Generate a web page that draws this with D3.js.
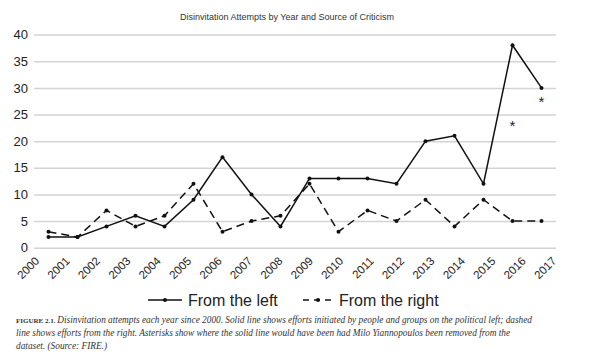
<!DOCTYPE html>
<html>
<head>
<meta charset="utf-8">
<script src="https://cdn.jsdelivr.net/npm/d3@7"></script>
<style>
  html, body { margin: 0; padding: 0; background: #fff; }
  svg { display: block; }
</style>
</head>
<body>
<svg id="chart" width="611" height="356"></svg>
<script>
const years = ["2000","2001","2002","2003","2004","2005","2006","2007","2008","2009","2010","2011","2012","2013","2014","2015","2016","2017"];
const fromLeft  = [2, 2, 4, 6, 4, 9, 17, 10, 4, 13, 13, 13, 12, 20, 21, 12, 38, 30];
const fromRight = [3, 2, 7, 4, 6, 12, 3, 5, 6, 12, 3, 7, 5, 9, 4, 9, 5, 5];
const withoutMiloYears = ["2016", "2017"];
const withoutMiloValues = [23.5, 28];
const yTicks = [0, 5, 10, 15, 20, 25, 30, 35, 40];
const seriesNames = ["From the left", "From the right"];
const title = "Disinvitation Attempts by Year and Source of Criticism";
const captionLabel = "FIGURE 2.1.";
const captionLines = [
  "Disinvitation attempts each year since 2000. Solid line shows efforts initiated by people and groups on the political left; dashed",
  "line shows efforts from the right. Asterisks show where the solid line would have been had Milo Yiannopoulos been removed from the",
  "dataset. (Source: FIRE.)"
];

const svg = d3.select("#chart");
const x = d3.scaleBand().domain(years).range([34, 556]);
const xLabel = d3.scalePoint().domain(years).range([37.5, 554.5]);
const y = d3.scaleLinear().domain([0, 40]).range([247.7, 34.6]);
const cx = d => x(d) + x.bandwidth() / 2;

// title
svg.append("text").attr("x", 287).attr("y", 20).attr("text-anchor", "middle")
  .attr("font-family", "Liberation Sans, Arial, sans-serif").attr("font-size", 9)
  .attr("fill", "#333").text(title);

// gridlines
const yAxis = d3.axisLeft(y).tickValues(yTicks).tickSize(-(556 - 34)).tickPadding(6);
const gy = svg.append("g").attr("transform", "translate(34,0)").call(yAxis);
gy.select(".domain").remove();
gy.selectAll(".tick line").attr("stroke", "#d3d3d3").attr("stroke-width", 1.5);
gy.selectAll(".tick text").attr("font-family", "Liberation Sans, Arial, sans-serif")
  .attr("font-size", 13).attr("fill", "#222").attr("x", -6);

// x labels
const xAxis = d3.axisBottom(xLabel).tickSize(0).tickPadding(0);
const gx = svg.append("g").attr("transform", "translate(0,247.7)").call(xAxis);
gx.select(".domain").remove();
gx.selectAll(".tick text")
  .attr("font-family", "Liberation Sans, Arial, sans-serif").attr("font-size", 11.5).attr("fill", "#222")
  .attr("text-anchor", "end").attr("dy", 0).attr("y", 0)
  .attr("transform", "translate(2,14) rotate(-45)");

// lines
const line = d3.line().x((d, i) => cx(years[i])).y(d => y(d));
svg.append("path").datum(fromRight).attr("d", line).attr("fill", "none")
  .attr("stroke", "#111").attr("stroke-width", 1.5).attr("stroke-dasharray", "8,5");
svg.append("path").datum(fromLeft).attr("d", line).attr("fill", "none")
  .attr("stroke", "#111").attr("stroke-width", 1.5);

[fromLeft, fromRight].forEach(s => {
  svg.append("g").selectAll("circle").data(s).join("circle")
    .attr("cx", (d, i) => cx(years[i])).attr("cy", d => y(d)).attr("r", 2).attr("fill", "#111");
});

// asterisks
svg.append("g").selectAll("text").data(withoutMiloValues).join("text")
  .attr("x", (d, i) => cx(withoutMiloYears[i])).attr("y", d => y(d) + 8.5)
  .attr("text-anchor", "middle").attr("font-family", "Liberation Sans, Arial, sans-serif")
  .attr("font-size", 15).attr("fill", "#222").text("*");

// legend
const lg = svg.append("g").attr("font-family", "Liberation Sans, Arial, sans-serif").attr("font-size", 16).attr("fill", "#222");
lg.append("line").attr("x1", 148).attr("x2", 182).attr("y1", 300).attr("y2", 300).attr("stroke", "#111").attr("stroke-width", 1.5);
lg.append("circle").attr("cx", 165).attr("cy", 300).attr("r", 2).attr("fill", "#111");
lg.append("text").attr("x", 188).attr("y", 305.5).text(seriesNames[0]);
lg.append("line").attr("x1", 303).attr("x2", 334).attr("y1", 300).attr("y2", 300).attr("stroke", "#111").attr("stroke-width", 1.5).attr("stroke-dasharray", "6,5");
lg.append("circle").attr("cx", 318).attr("cy", 300).attr("r", 2).attr("fill", "#111");
lg.append("text").attr("x", 339).attr("y", 305.5).text(seriesNames[1]);

// caption
const cap = svg.append("g").attr("font-family", "Liberation Serif, DejaVu Serif, serif").attr("font-size", 9.3).attr("fill", "#333");
const t1 = cap.append("text").attr("x", 16).attr("y", 323);
t1.append("tspan").attr("font-style", "normal").attr("font-weight", "bold").attr("font-size", 7).text(captionLabel + " ");
t1.append("tspan").attr("font-style", "italic").text(captionLines[0]);
cap.append("text").attr("x", 16).attr("y", 336).attr("font-style", "italic").text(captionLines[1]);
cap.append("text").attr("x", 16).attr("y", 349).attr("font-style", "italic").text(captionLines[2]);
</script>
</body>
</html>
